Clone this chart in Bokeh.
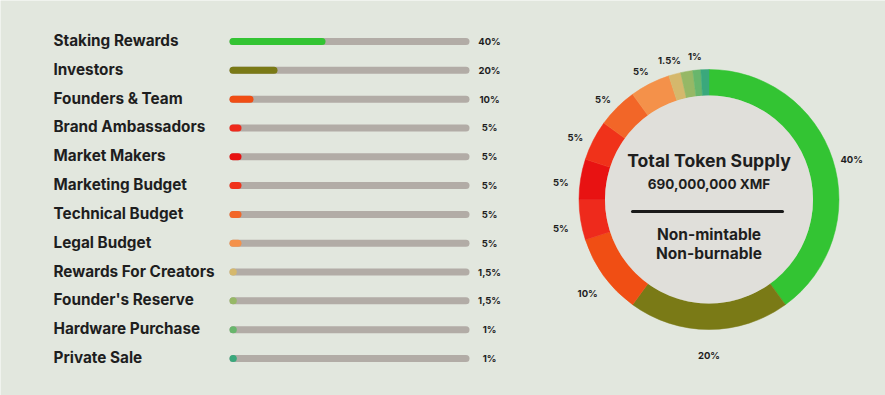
import numpy as np
from bokeh.plotting import figure
from bokeh.models import Range1d, ColumnDataSource
from bokeh.core.properties import value
from bokeh.embed import file_html
from bokeh.resources import INLINE

# ---------------- data ----------------
categories = ["Staking Rewards", "Investors", "Founders & Team", "Brand Ambassadors",
              "Market Makers", "Marketing Budget", "Technical Budget", "Legal Budget",
              "Rewards For Creators", "Founder's Reserve", "Hardware Purchase", "Private Sale"]
shares = [40, 20, 10, 5, 5, 5, 5, 5, 1.5, 1.5, 1, 1]
bar_labels = ["40%", "20%", "10%", "5%", "5%", "5%", "5%", "5%", "1,5%", "1,5%", "1%", "1%"]
ring_labels = ["40%", "20%", "10%", "5%", "5%", "5%", "5%", "5%", "1.5%", "", "1%", ""]
colors = ["#33c433", "#7a7a16", "#f04e14", "#ee2a1c", "#e81212", "#f0321a",
          "#f26628", "#f4914a", "#d5b86c", "#96b866", "#68b66c", "#3aa87c"]
supply_title = "Total Token Supply"
supply_amount = "690,000,000 XMF"
supply_notes = ["Non-mintable", "Non-burnable"]

# ---------------- layout (pixel-like coordinates, data y = -screen y) ----------------
W, H = 885, 395
BG = "#e2e7de"
FONT = value("Inter")
TXT = "#1e1e1e"

p = figure(width=W, height=H, output_backend="svg", toolbar_location=None,
           x_range=Range1d(0, W), y_range=Range1d(-H, 0),
           min_border=0, outline_line_color=None,
           background_fill_color=BG, border_fill_color=BG)
p.axis.visible = False
p.grid.visible = False

n = len(categories)
row_top, row_bottom = 41.0, 358.0
row_y = [-(row_top + i * (row_bottom - row_top) / (n - 1)) for i in range(n)]

track_x0, track_w, bar_h = 229.0, 240.0, 7.0
cap = bar_h / 2
fill_end = [max(track_x0 + s / 100 * track_w - cap, track_x0 + cap + 0.3) for s in shares]

src = ColumnDataSource(dict(cat=categories, y=row_y, share=shares, lab=bar_labels,
                            color=colors, x0=[track_x0 + cap] * n, x1=fill_end,
                            tx1=[track_x0 + track_w - cap] * n))

p.segment(x0="x0", y0="y", x1="tx1", y1="y", source=src, line_color="#b2aca6",
          line_width=bar_h, line_cap="round")
p.segment(x0="x0", y0="y", x1="x1", y1="y", source=src, line_color="color",
          line_width=bar_h, line_cap="round")

p.text(x=53, y="y", text="cat", source=src, text_font=FONT, text_font_style="bold",
       text_font_size="15.3px", text_color=TXT, text_align="left", text_baseline="middle",
       y_offset=-1)
p.text(x=489, y="y", text="lab", source=src, text_font=FONT, text_font_style="bold",
       text_font_size="9.5px", text_color=TXT, text_align="center", text_baseline="middle")

# ---------------- donut ----------------
cx, cy = 708.5, -199.0
r_out, r_in = 130.0, 104.0
frac = np.array(shares, dtype=float) / sum(shares)
cum = np.concatenate([[0.0], np.cumsum(frac)])
start = np.pi / 2 - 2 * np.pi * cum[:-1]
end = np.pi / 2 - 2 * np.pi * cum[1:]
mid = (cum[:-1] + cum[1:]) / 2 * 2 * np.pi   # clockwise from top
r_lab = 150.0
lx = cx + r_lab * np.sin(mid)
ly = cy + r_lab * np.cos(mid)

dsrc = ColumnDataSource(dict(start=start, end=end, color=colors, lab=ring_labels,
                             lx=lx, ly=ly))
p.annular_wedge(x=cx, y=cy, inner_radius=r_in, outer_radius=r_out,
                start_angle="start", end_angle="end", direction="clock",
                source=dsrc, fill_color="color", line_color="color", line_width=0.5)
p.circle(x=cx, y=cy, radius=r_in, fill_color="#e0dfda", line_color=None)

p.text(x="lx", y="ly", text="lab", source=dsrc, text_font=FONT, text_font_style="bold",
       text_font_size="9.5px", text_color=TXT, text_align="center", text_baseline="middle",
       y_offset=6)

p.text(x=[cx], y=[-160], text=[supply_title], text_font=FONT, text_font_style="bold",
       text_font_size="17.6px", text_color=TXT, text_align="center", text_baseline="middle")
p.text(x=[cx], y=[-183], text=[supply_amount], text_font=FONT, text_font_style="bold",
       text_font_size="13.5px", text_color=TXT, text_align="center", text_baseline="middle")
p.segment(x0=[632], y0=[-211], x1=[782], y1=[-211], line_color="#1a1a1a", line_width=3,
          line_cap="round")
p.text(x=[cx, cx], y=[-234, -253], text=supply_notes, text_font=FONT, text_font_style="bold",
       text_font_size="15.5px", text_color=TXT, text_align="center", text_baseline="middle")

open("out.html", "w").write(file_html(p, INLINE))
